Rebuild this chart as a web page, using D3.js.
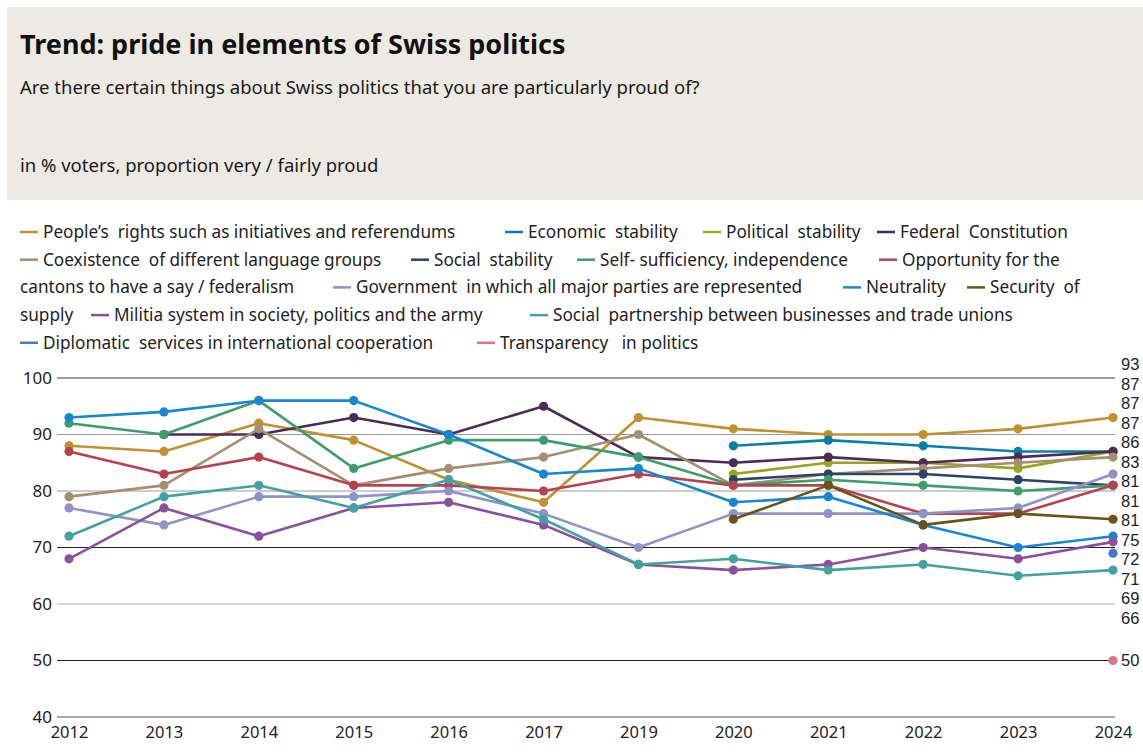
<!DOCTYPE html>
<html>
<head>
<meta charset="utf-8">
<script src="https://cdn.jsdelivr.net/npm/d3@7"></script>
<style>
  html, body { margin: 0; padding: 0; background: #ffffff; }
  svg { display: block; font-family: "Noto Sans", "Open Sans", sans-serif; }
  .pre { white-space: pre; }
</style>
</head>
<body>
<svg id="chart" width="1143" height="754"></svg>
<script>
// Survey years (no wave in 2018)
const years = ["2012", "2013", "2014", "2015", "2016", "2017", "2019", "2020", "2021", "2022", "2023", "2024"];

// Share of voters very / fairly proud, in %, one array per item (null = not asked)
const peoplesRights      = [88, 87, 92, 89, 82, 78, 93, 91, 90, 90, 91, 93];
const economicStability  = [null, null, null, null, null, null, null, 88, 89, 88, 87, 87];
const politicalStability = [null, null, null, null, null, null, null, 83, 85, 85, 84, 87];
const federalConstitution = [null, 90, 90, 93, 90, 95, 86, 85, 86, 85, 86, 87];
const coexistence        = [79, 81, 91, 81, 84, 86, 90, 81, 83, 84, 85, 86];
const socialStability    = [null, null, null, null, null, null, null, 82, 83, 83, 82, 81];
const selfSufficiency    = [92, 90, 96, 84, 89, 89, 86, 81, 82, 81, 80, 81];
const federalism         = [87, 83, 86, 81, 81, 80, 83, 81, 81, 76, 76, 81];
const government         = [77, 74, 79, 79, 80, 76, 70, 76, 76, 76, 77, 83];
const neutrality         = [93, 94, 96, 96, 90, 83, 84, 78, 79, 74, 70, 72];
const securityOfSupply   = [null, null, null, null, null, null, null, 75, 81, 74, 76, 75];
const militia            = [68, 77, 72, 77, 78, 74, 67, 66, 67, 70, 68, 71];
const socialPartnership  = [72, 79, 81, 77, 82, 75, 67, 68, 66, 67, 65, 66];
const diplomacy          = [null, null, null, null, null, null, null, null, null, null, null, 69];
const transparency       = [null, null, null, null, null, null, null, null, null, null, null, 50];

const seriesNames = [
  "People’s  rights such as initiatives and referendums",
  "Economic  stability",
  "Political  stability",
  "Federal  Constitution",
  "Coexistence  of different language groups",
  "Social  stability",
  "Self- sufficiency, independence",
  "Opportunity for the cantons to have a say / federalism",
  "Government  in which all major parties are represented",
  "Neutrality",
  "Security  of supply",
  "Militia system in society, politics and the army",
  "Social  partnership between businesses and trade unions",
  "Diplomatic  services in international cooperation",
  "Transparency   in politics"
];
const seriesValues = [
  peoplesRights, economicStability, politicalStability, federalConstitution,
  coexistence, socialStability, selfSufficiency, federalism, government,
  neutrality, securityOfSupply, militia, socialPartnership, diplomacy, transparency
];
const yTicks = [40, 50, 60, 70, 80, 90, 100];

// ---- styling ----
const colors = [
  "#bf9131", "#0a7fa6", "#97a51f", "#4b2b58", "#a58f72", "#2d4466", "#3e9d6c",
  "#b7424f", "#8d93c9", "#1787cf", "#6b5219", "#8a4f9d", "#44a1a1", "#4b79c1", "#d8777f"
];
// legend placement: row, left edge of swatch, optional wrap point
const legendLayout = [
  { row: 0, x: 20 }, { row: 0, x: 505 }, { row: 0, x: 703 }, { row: 0, x: 877 },
  { row: 1, x: 20 }, { row: 1, x: 411 }, { row: 1, x: 577 },
  { row: 1, x: 879, wrapAfter: "Opportunity for the" },
  { row: 2, x: 333 }, { row: 2, x: 843 },
  { row: 2, x: 967, wrapAfter: "Security  of" },
  { row: 3, x: 91 }, { row: 3, x: 530 },
  { row: 4, x: 20 }, { row: 4, x: 477 }
];

const svg = d3.select("#chart");

// header panel
svg.append("rect").attr("x", 7).attr("y", 7).attr("width", 1136).attr("height", 193)
  .attr("fill", "#edeae4");
svg.append("text").attr("x", 20).attr("y", 54)
  .attr("font-size", 27).attr("font-weight", 700).attr("fill", "#111")
  .text("Trend: pride in elements of Swiss politics");
svg.append("text").attr("x", 20).attr("y", 94)
  .attr("font-size", 18.5).attr("fill", "#1a1a1a")
  .text("Are there certain things about Swiss politics that you are particularly proud of?");
svg.append("text").attr("x", 20).attr("y", 172)
  .attr("font-size", 18.5).attr("fill", "#1a1a1a")
  .text("in % voters, proportion very / fairly proud");

// legend
const rowY = r => 238 + r * 27.7;
const legend = svg.append("g").attr("font-size", 17.2).attr("fill", "#222");
legendLayout.forEach((p, i) => {
  const name = seriesNames[i];
  legend.append("line")
    .attr("x1", p.x).attr("x2", p.x + 18)
    .attr("y1", rowY(p.row) - 6).attr("y2", rowY(p.row) - 6)
    .attr("stroke", colors[i]).attr("stroke-width", 2.5);
  let first = name, rest = null;
  if (p.wrapAfter) {
    first = p.wrapAfter;
    rest = name.slice(p.wrapAfter.length).trim();
  }
  legend.append("text").attr("class", "pre")
    .attr("x", p.x + 23).attr("y", rowY(p.row)).text(first);
  if (rest) {
    legend.append("text").attr("class", "pre")
      .attr("x", 20).attr("y", rowY(p.row + 1)).text(rest);
  }
});

// scales
const x = d3.scalePoint().domain(years).range([69, 1113]);
const y = d3.scaleLinear().domain([40, 100]).range([717, 378]);
const gridLeft = 57, gridRight = 1115;

// gridlines
const gridColor = { 100: "#3a3a3a", 90: "#9a9a9a", 80: "#9a9a9a", 70: "#1f1f1f", 60: "#b0b0b0", 50: "#1f1f1f", 40: "#555555" };
const grid = svg.append("g");
grid.selectAll("line").data(yTicks).join("line")
  .attr("x1", gridLeft).attr("x2", gridRight)
  .attr("y1", d => y(d)).attr("y2", d => y(d))
  .attr("stroke", d => gridColor[d]).attr("stroke-width", 1.1);

// axes (labels only)
const yAxis = svg.append("g").attr("transform", `translate(${gridLeft},0)`)
  .call(d3.axisLeft(y).tickValues(yTicks).tickSize(0).tickPadding(5));
yAxis.select(".domain").remove();
yAxis.selectAll("text").attr("font-size", 17).attr("fill", "#222")
  .attr("font-family", "Noto Sans, sans-serif");

const xAxis = svg.append("g").attr("transform", `translate(0,${y(40)})`)
  .call(d3.axisBottom(x).tickSize(0).tickPadding(9));
xAxis.select(".domain").remove();
xAxis.selectAll("text").attr("font-size", 16.5).attr("fill", "#222")
  .attr("font-family", "Noto Sans, sans-serif");

// series lines and markers
const line = d3.line()
  .defined(d => d.v != null)
  .x(d => x(d.year)).y(d => y(d.v));

const series = seriesValues.map((vals, i) => ({
  name: seriesNames[i], color: colors[i],
  points: vals.map((v, j) => ({ year: years[j], v }))
}));

const plot = svg.append("g");
series.forEach(s => {
  const g = plot.append("g");
  g.append("path").datum(s.points).attr("d", line)
    .attr("fill", "none").attr("stroke", s.color).attr("stroke-width", 2.6)
    .attr("stroke-linejoin", "round");
  g.selectAll("circle").data(s.points.filter(d => d.v != null)).join("circle")
    .attr("cx", d => x(d.year)).attr("cy", d => y(d.v)).attr("r", 4.6)
    .attr("fill", s.color);
});

// end-of-line value labels: blocks of colliding labels are merged and
// centred on the mean of their targets until no two labels overlap
const last = years[years.length - 1];
const ends = series.map(s => ({ v: s.points[s.points.length - 1].v }))
  .sort((a, b) => b.v - a.v);
const gap = 19.5;
let blocks = ends.map(d => ({ items: [d], target: y(d.v) }));
const blockTop = b => b.target - (b.items.length - 1) * gap / 2;
let merged = true;
while (merged) {
  merged = false;
  for (let k = 1; k < blocks.length; k++) {
    const a = blocks[k - 1], b = blocks[k];
    const aBottom = blockTop(a) + (a.items.length - 1) * gap;
    if (blockTop(b) - aBottom < gap) {
      const items = a.items.concat(b.items);
      const target = d3.mean(items, d => y(d.v));
      blocks.splice(k - 1, 2, { items, target });
      merged = true;
      break;
    }
  }
}
blocks.forEach(b => b.items.forEach((d, k) => { d.y = blockTop(b) + k * gap; }));

svg.append("g").attr("font-size", 16.5).attr("fill", "#222")
  .attr("font-family", "Liberation Sans, Arial, sans-serif")
  .selectAll("text").data(ends).join("text")
  .attr("x", x(last) + 8).attr("y", d => d.y).attr("dy", "0.35em")
  .text(d => d.v);
</script>
</body>
</html>
